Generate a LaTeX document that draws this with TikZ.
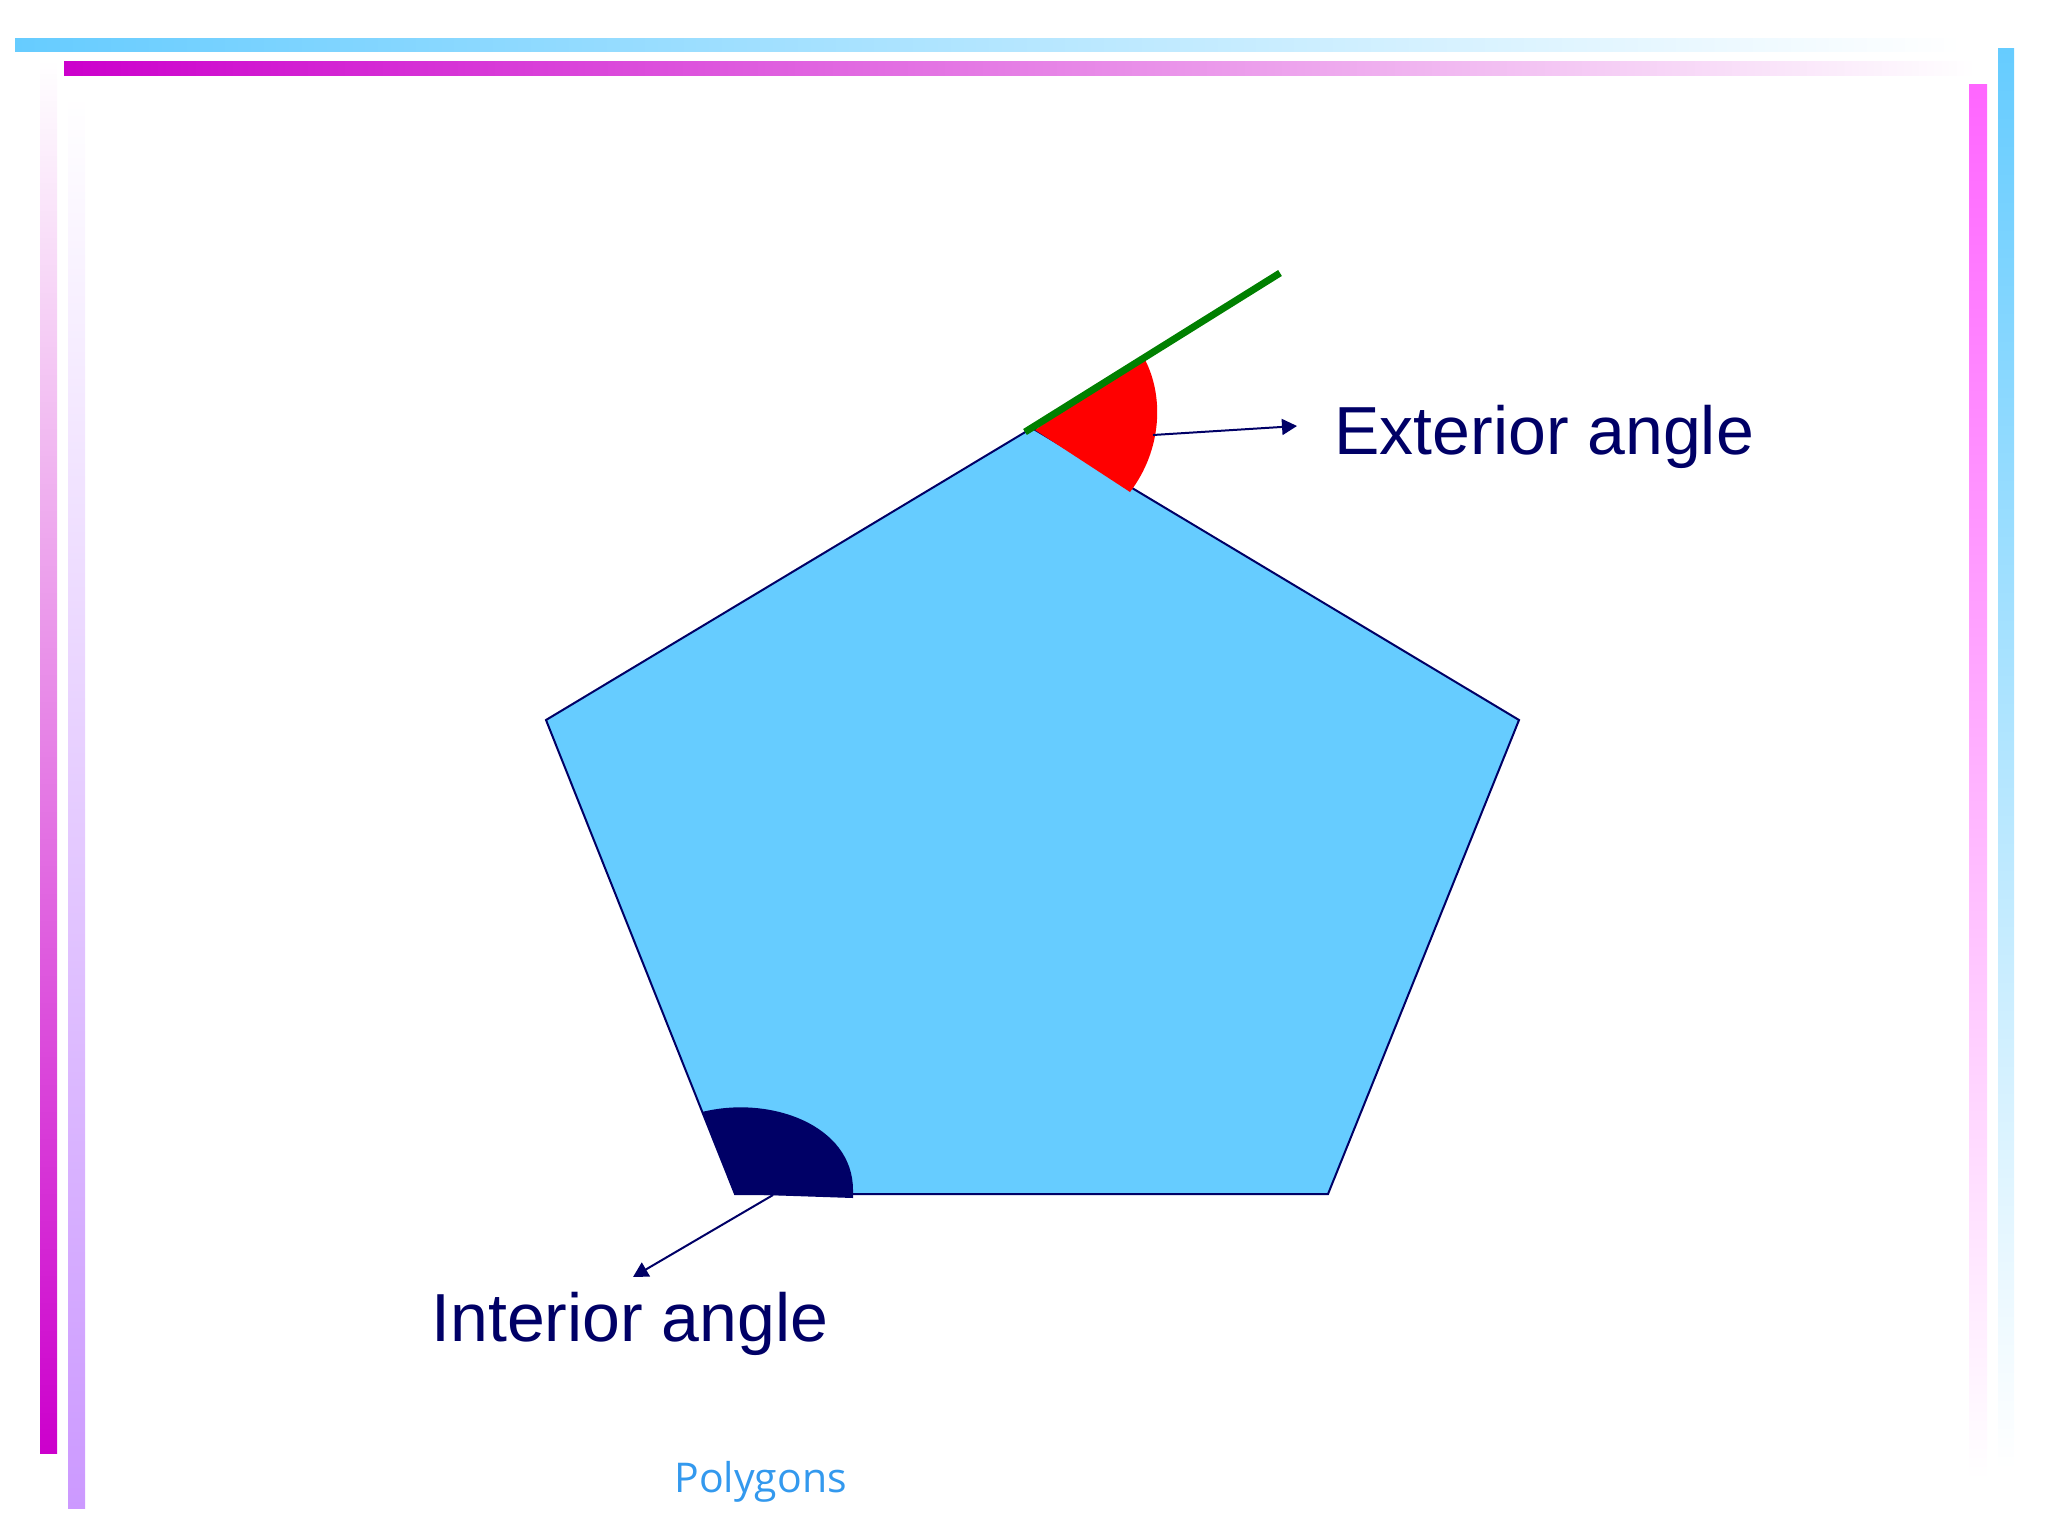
\documentclass[tikz,border=0pt]{standalone}
\usepackage{fontspec}
\setmainfont{Liberation Sans}
\newfontfamily\captionfont{Open Sans}
\usetikzlibrary{arrows.meta}
\definecolor{navy}{HTML}{000066}
\definecolor{skyfill}{HTML}{66CCFF}
\definecolor{barmagenta}{HTML}{CC00CC}
\definecolor{barlilac}{HTML}{CC99FF}
\definecolor{barpink}{HTML}{FF66FF}
\definecolor{capblue}{HTML}{3399EE}
\definecolor{rayred}{HTML}{FF0000}
\definecolor{raygreen}{HTML}{008000}
\newcommand{\clrline}{navy}

\begin{document}
\begin{tikzpicture}[x=0.5pt, y=-0.5pt,
    label text/.style={text=\clrline, inner sep=0pt, anchor=base west, font=\fontsize{34}{40}\selectfont},
    pointer/.style={draw=\clrline, line width=1pt, -{Triangle[length=7.5pt,width=8pt]}}]
    \useasboundingbox (0,0) rectangle (2048,1536);
    %top bars
        \foreach \ya/\yb/\xa/\xb/\clr in {39/52/15/1962/skyfill, 62/76/64/1975/barmagenta} {
            \shade[left color=\clr, right color=white] (\xa,\ya) rectangle (\xb,\yb);
        }
    %side bars
        \foreach \xa/\xb/\ya/\yb/\ct/\cb in
        {40/57/60/1453/white/barmagenta, 68/85/95/1508/white/barlilac,
         1969/1987/85/1480/barpink/white, 1998/2014/49/1470/skyfill/white}
        {
            \shade[top color=\ct, bottom color=\cb] (\xa,\ya) rectangle (\xb,\yb);
        }

    %pentagon
        \coordinate (top) at (1032,428);
        \coordinate (right) at (1519,720);
        \coordinate (botright) at (1328,1194);
        \coordinate (botleft) at (735,1194);
        \coordinate (left) at (546,720);
        \draw[\clrline, line width=1pt, fill=skyfill]
            (top) -- (right) -- (botright) -- (botleft) -- (left) -- cycle;

    %interior angle
        \fill[\clrline] (botleft) -- (702,1112) .. controls (770,1095) and (853,1125) .. (853,1190)
            -- (853,1198) -- cycle;

    %exterior angle
        \fill[rayred] (1035,430) -- (1143,356) .. controls (1165,395) and (1162,450) .. (1130,492) -- cycle;
        \coordinate (raystart) at (1025,432);
        \coordinate (rayend) at (1280,273);
        \draw[raygreen, line width=3.5pt] (raystart) -- (rayend);

    %labels
        \node[label text] (exterior) at (1334,454) {Exterior angle};
        \node[label text] (interior) at (431,1341) {Interior angle};
        \node[font=\captionfont\fontsize{20.5}{24}\selectfont, text=capblue, inner sep=0pt, anchor=base west]
            (caption) at (674,1492) {Polygons};

    %pointers
        \coordinate (extfoot) at (1153,435);
        \coordinate (extpoint) at (1297,426);
        \coordinate (intfoot) at (773,1195);
        \coordinate (intpoint) at (633,1277);
        \draw[pointer] (extfoot) -- (extpoint);
        \draw[pointer] (intfoot) -- (intpoint);
\end{tikzpicture}
\end{document}
